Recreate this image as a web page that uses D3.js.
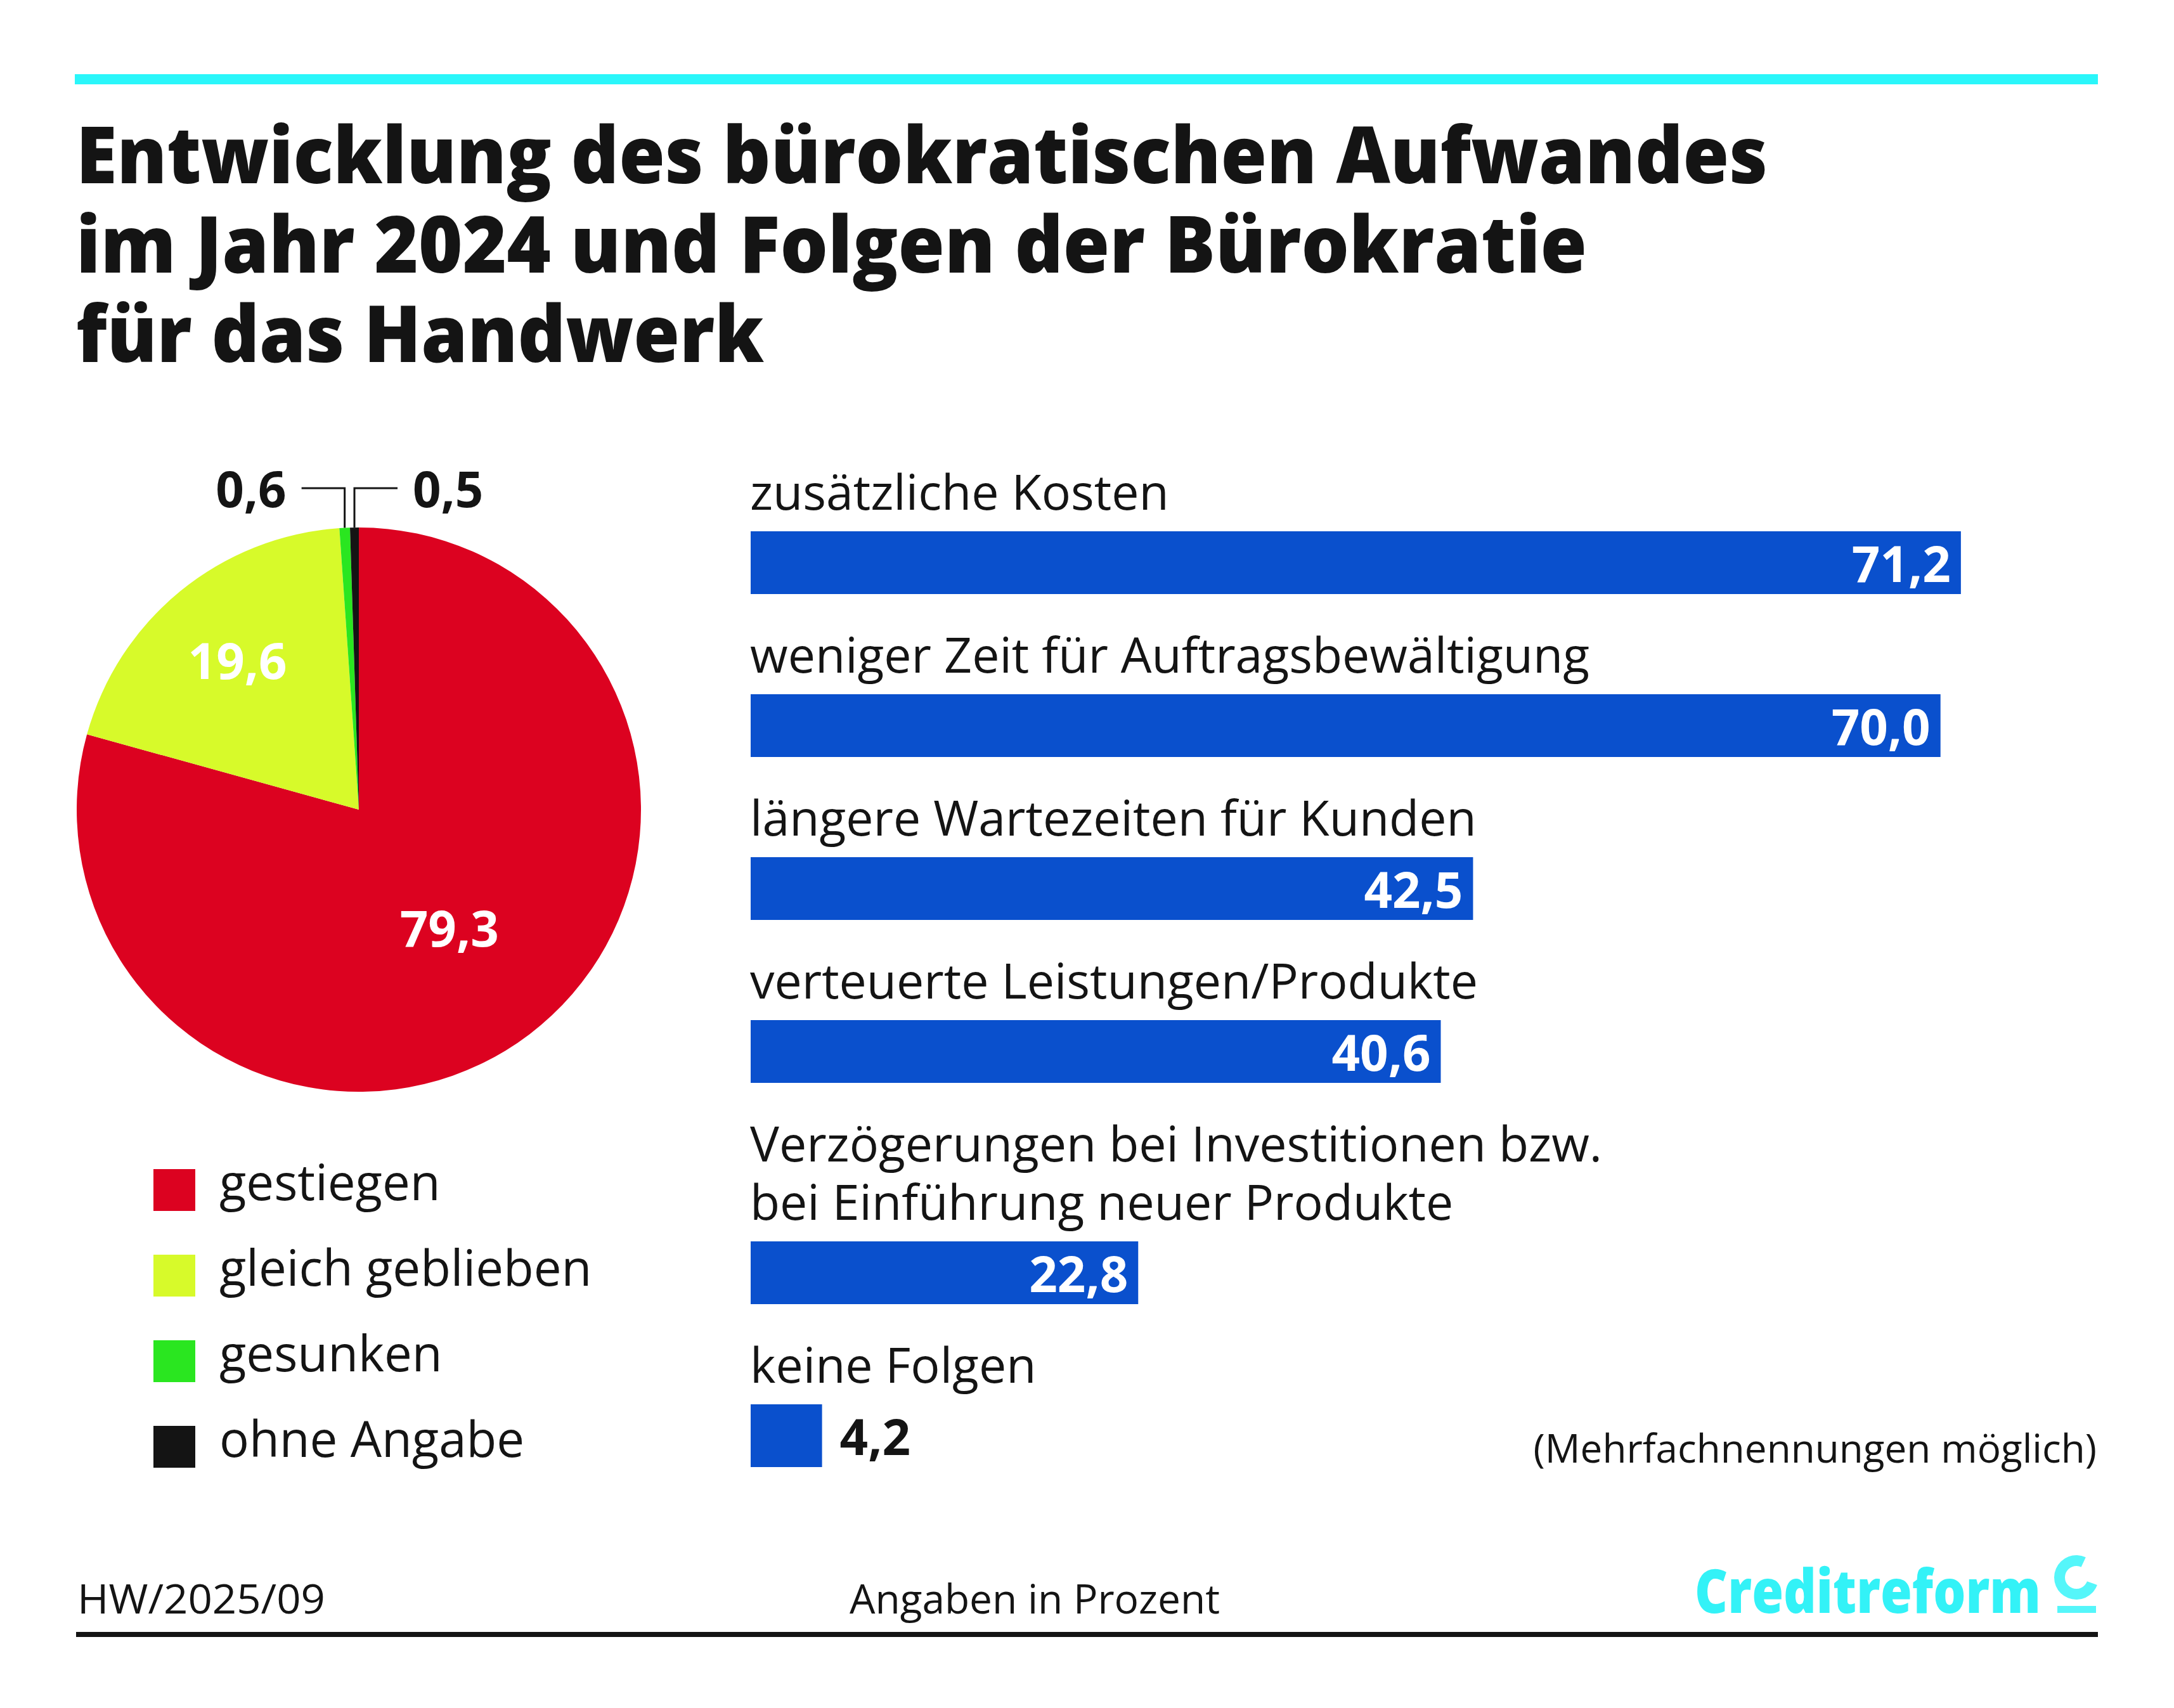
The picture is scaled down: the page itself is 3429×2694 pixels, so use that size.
<!DOCTYPE html>
<html>
<head>
<meta charset="utf-8">
<script src="https://cdn.jsdelivr.net/npm/d3@7"></script>
<style>
  html, body { margin: 0; padding: 0; background: #ffffff; }
  svg { display: block; }
  text { font-family: "Open Sans", "Noto Sans", sans-serif; }
</style>
</head>
<body>
<script>
// ---------------- DATA ----------------
const titleLines = [
  "Entwicklung des bürokratischen Aufwandes",
  "im Jahr 2024 und Folgen der Bürokratie",
  "für das Handwerk"
];
const pieCategories = ["gestiegen", "gleich geblieben", "gesunken", "ohne Angabe"];
const pieValues = [79.3, 19.6, 0.6, 0.5];

const barCategories = [
  "zusätzliche Kosten",
  "weniger Zeit für Auftragsbewältigung",
  "längere Wartezeiten für Kunden",
  "verteuerte Leistungen/Produkte",
  "Verzögerungen bei Investitionen bzw.\nbei Einführung neuer Produkte",
  "keine Folgen"
];
const barValues = [71.2, 70.0, 42.5, 40.6, 22.8, 4.2];

const noteText = "(Mehrfachnennungen möglich)";
const sourceText = "HW/2025/09";
const unitText = "Angaben in Prozent";
const brandText = "Creditreform";

// ---------------- STYLE ----------------
const pieColors = ["#dc0220", "#d7fa2a", "#2ae620", "#141414"];
const barColor = "#0a50cd";
const ink = "#141414";
const cyan = "#2af6fa";

const W = 3429, H = 2694;
const fmt = v => d3.format(".1f")(v).replace(".", ",");

const svg = d3.select("body").append("svg")
  .attr("width", W).attr("height", H);

svg.append("rect").attr("width", W).attr("height", H).attr("fill", "#ffffff");

// top cyan rule
svg.append("rect").attr("x", 118).attr("y", 117).attr("width", 3191).attr("height", 16).attr("fill", cyan);

// title (one text element, one tspan per line)
const titleWidths = [2668, 2383, 1085];
svg.append("text")
  .attr("font-size", 124)
  .attr("font-weight", 800)
  .attr("fill", ink)
  .selectAll("tspan").data(titleLines).join("tspan")
  .attr("x", 120)
  .attr("y", (d, i) => 289 + i * 141)
  .attr("textLength", (d, i) => titleWidths[i])
  .attr("lengthAdjust", "spacingAndGlyphs")
  .text(d => d);

// ---------------- PIE ----------------
const R = 445, cx = 566, cy = 1277;
const pieGen = d3.pie().sort(null).value(d => d);
const arcs = pieGen(pieValues);
const arc = d3.arc().innerRadius(0).outerRadius(R);
const gPie = svg.append("g").attr("transform", `translate(${cx},${cy})`);

gPie.selectAll("path").data(arcs).join("path")
  .attr("d", arc)
  .attr("fill", (d, i) => pieColors[i]);

// inner labels for large slices
const labelRadius = [0.53, 0.68];
const big = arcs.filter(d => d.value >= 5);
gPie.selectAll("text.inner").data(big).join("text")
  .attr("class", "inner")
  .each(function(d, i) {
    const rr = R * labelRadius[i];
    const c = d3.arc().innerRadius(rr).outerRadius(rr).centroid(d);
    d3.select(this).attr("x", c[0]).attr("y", c[1] + 28);
  })
  .attr("text-anchor", "middle")
  .attr("font-size", 78)
  .attr("font-weight", 700)
  .attr("fill", "#ffffff")
  .text(d => fmt(d.value));

// outer labels with leader lines for tiny slices
const small = arcs.filter(d => d.value < 5);
const elbowY = -507;
small.forEach((d, i) => {
  const mid = (d.startAngle + d.endAngle) / 2;
  const px = R * Math.sin(mid), py = -R * Math.cos(mid);
  const dir = i === 0 ? -1 : 1;
  gPie.append("path")
    .attr("d", `M${px},${py}V${elbowY}H${px + dir * 68}`)
    .attr("fill", "none")
    .attr("stroke", ink)
    .attr("stroke-width", 3);
  gPie.append("text")
    .attr("x", px + dir * 92)
    .attr("y", elbowY + 30)
    .attr("text-anchor", dir < 0 ? "end" : "start")
    .attr("font-size", 78)
    .attr("font-weight", 700)
    .attr("fill", ink)
    .text(fmt(d.value));
});

// legend
const gLeg = svg.append("g");
const legItems = gLeg.selectAll("g").data(pieCategories).join("g")
  .attr("transform", (d, i) => `translate(242,${1844 + i * 135})`);
legItems.append("rect").attr("width", 66).attr("height", 66).attr("fill", (d, i) => pieColors[i]);
legItems.append("text")
  .attr("x", 104).attr("y", 49)
  .attr("font-size", 78)
  .attr("fill", ink)
  .text(d => d);

// ---------------- BARS ----------------
const x = d3.scaleLinear().domain([0, 100]).range([1184, 1184 + 2681]);
const lineH = 92, labelToBar = 34, barH = 99, barToLabel = 124;
const firstBaseline = 804;
const labelTops = [], barTops = [];
let cur = firstBaseline;
barCategories.forEach(c => {
  const n = c.split("\n").length;
  labelTops.push(cur);
  const lastBase = cur + (n - 1) * lineH;
  barTops.push(lastBase + labelToBar);
  cur = lastBase + labelToBar + barH + barToLabel;
});
const yLabel = d3.scaleOrdinal().domain(barCategories).range(labelTops);
const yBar = d3.scaleOrdinal().domain(barCategories).range(barTops);

const gBars = svg.append("g");
const rows = gBars.selectAll("g").data(barCategories.map((c, i) => ({c, v: barValues[i]}))).join("g");

rows.append("text")
  .attr("font-size", 77)
  .attr("fill", ink)
  .each(function(d) {
    const t = d3.select(this);
    d.c.split("\n").forEach((ln, j) => {
      t.append("tspan").attr("x", 1183).attr("y", yLabel(d.c) + j * lineH).text(ln);
    });
  });

rows.append("rect")
  .attr("x", x(0))
  .attr("y", d => yBar(d.c))
  .attr("width", d => x(d.v) - x(0))
  .attr("height", barH)
  .attr("fill", barColor);

rows.append("text")
  .attr("x", d => (x(d.v) - x(0) > 200) ? x(d.v) - 16 : x(d.v) + 28)
  .attr("y", d => yBar(d.c) + 80)
  .attr("text-anchor", d => (x(d.v) - x(0) > 200) ? "end" : "start")
  .attr("font-size", 78)
  .attr("font-weight", 700)
  .attr("fill", d => (x(d.v) - x(0) > 200) ? "#ffffff" : ink)
  .text(d => fmt(d.v));

svg.append("text")
  .attr("x", 3307).attr("y", 2307)
  .attr("text-anchor", "end")
  .attr("font-size", 62)
  .attr("fill", ink)
  .text(noteText);

// ---------------- FOOTER ----------------
svg.append("text")
  .attr("x", 122).attr("y", 2545)
  .attr("font-size", 64)
  .attr("fill", ink)
  .attr("textLength", 391)
  .attr("lengthAdjust", "spacingAndGlyphs")
  .text(sourceText);

svg.append("text")
  .attr("x", 1632).attr("y", 2545)
  .attr("text-anchor", "middle")
  .attr("font-size", 64)
  .attr("fill", ink)
  .text(unitText);

svg.append("text")
  .attr("x", 2673).attr("y", 2544)
  .attr("font-size", 96)
  .attr("font-weight", 800)
  .attr("fill", "#33f2f7")
  .attr("textLength", 546)
  .attr("lengthAdjust", "spacingAndGlyphs")
  .text(brandText);

const gLogo = svg.append("g").attr("transform", "translate(3275,2488)");
gLogo.append("path")
  .attr("d", d3.arc().innerRadius(18).outerRadius(35)
    .startAngle(110 * Math.PI / 180).endAngle(385 * Math.PI / 180)())
  .attr("fill", "#55f6fa");
gLogo.append("rect").attr("x", -30).attr("y", 45).attr("width", 61).attr("height", 11).attr("fill", "#55f6fa");

svg.append("rect").attr("x", 120).attr("y", 2574).attr("width", 3189).attr("height", 8).attr("fill", ink);
</script>
</body>
</html>
